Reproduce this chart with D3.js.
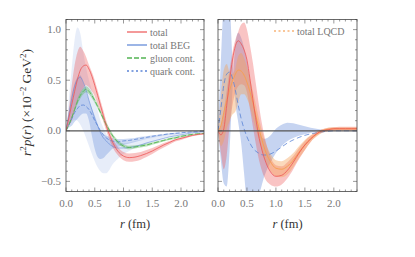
<!DOCTYPE html>
<html>
<head>
<meta charset="utf-8">
<script src="https://cdn.jsdelivr.net/npm/d3@7"></script>
<style>
  body { margin: 0; background: #fff; }
  svg text { font-family: "Liberation Serif", "DejaVu Serif", serif; }
</style>
</head>
<body>
<svg id="chart" width="415" height="257"></svg>
<script>
// ---- data ----
const rGrid = [0, 0.05, 0.1, 0.15, 0.2, 0.25, 0.3, 0.35, 0.4, 0.45, 0.5, 0.55, 0.6, 0.65, 0.7, 0.75, 0.8, 0.9, 1.0, 1.1, 1.2, 1.3, 1.4, 1.5, 1.6, 1.7, 1.8, 1.9, 2.0, 2.1, 2.2, 2.3, 2.4];

// left panel
const totalLine  = [0, 0.13, 0.26, 0.39, 0.51, 0.60, 0.64, 0.65, 0.61, 0.54, 0.45, 0.35, 0.25, 0.15, 0.05, -0.03, -0.10, -0.20, -0.25, -0.265, -0.26, -0.245, -0.225, -0.20, -0.17, -0.14, -0.115, -0.09, -0.075, -0.06, -0.045, -0.035, -0.03];
const totalHi    = [0, 0.22, 0.45, 0.65, 0.78, 0.83, 0.79, 0.73, 0.65, 0.58, 0.50, 0.40, 0.30, 0.20, 0.10, 0.02, -0.06, -0.16, -0.21, -0.225, -0.22, -0.21, -0.19, -0.17, -0.145, -0.12, -0.10, -0.08, -0.065, -0.05, -0.04, -0.03, -0.025];
const totalLo    = [0, 0.05, 0.10, 0.19, 0.29, 0.37, 0.42, 0.45, 0.43, 0.39, 0.34, 0.26, 0.18, 0.09, 0.00, -0.08, -0.15, -0.24, -0.29, -0.305, -0.30, -0.285, -0.26, -0.23, -0.195, -0.165, -0.135, -0.105, -0.09, -0.07, -0.055, -0.045, -0.035];

const begLine    = [0, 0.16, 0.32, 0.44, 0.51, 0.53, 0.48, 0.40, 0.30, 0.21, 0.12, 0.05, -0.02, -0.07, -0.10, -0.13, -0.15, -0.17, -0.17, -0.165, -0.155, -0.14, -0.12, -0.105, -0.09, -0.075, -0.06, -0.05, -0.04, -0.03, -0.02, -0.015, -0.01];
const begHi      = [0, 0.32, 0.62, 0.90, 1.02, 0.96, 0.78, 0.62, 0.50, 0.40, 0.30, 0.20, 0.10, 0.03, -0.03, -0.07, -0.10, -0.12, -0.12, -0.115, -0.10, -0.09, -0.08, -0.07, -0.06, -0.05, -0.04, -0.03, -0.025, -0.02, -0.015, -0.01, -0.01];
const begLo      = [0, 0.05, 0.09, 0.11, 0.10, 0.06, 0.00, -0.07, -0.15, -0.23, -0.30, -0.36, -0.40, -0.42, -0.42, -0.39, -0.34, -0.28, -0.23, -0.20, -0.17, -0.15, -0.13, -0.11, -0.09, -0.075, -0.06, -0.05, -0.04, -0.03, -0.02, -0.015, -0.01];

const gluonLine  = [0, 0.06, 0.13, 0.21, 0.29, 0.35, 0.39, 0.41, 0.39, 0.35, 0.30, 0.24, 0.18, 0.12, 0.06, 0.01, -0.04, -0.11, -0.15, -0.165, -0.16, -0.15, -0.14, -0.125, -0.11, -0.095, -0.08, -0.07, -0.055, -0.045, -0.035, -0.03, -0.025];
const gluonErr   = [0, 0.01, 0.015, 0.02, 0.028, 0.03, 0.03, 0.03, 0.03, 0.028, 0.025, 0.022, 0.02, 0.02, 0.02, 0.02, 0.02, 0.018, 0.018, 0.018, 0.016, 0.015, 0.015, 0.012, 0.012, 0.01, 0.01, 0.01, 0.008, 0.008, 0.006, 0.005, 0.005];

const quarkLine  = [0, 0.06, 0.12, 0.18, 0.22, 0.25, 0.255, 0.24, 0.21, 0.16, 0.10, 0.05, 0.00, -0.04, -0.07, -0.09, -0.10, -0.11, -0.10, -0.095, -0.085, -0.075, -0.065, -0.055, -0.045, -0.038, -0.03, -0.025, -0.02, -0.015, -0.01, -0.008, -0.005];
const quarkHi    = [0, 0.18, 0.35, 0.47, 0.53, 0.55, 0.47, 0.38, 0.30, 0.22, 0.15, 0.07, 0.00, -0.03, -0.05, -0.06, -0.07, -0.08, -0.08, -0.075, -0.07, -0.06, -0.055, -0.045, -0.04, -0.032, -0.025, -0.02, -0.016, -0.012, -0.008, -0.006, -0.004];
const quarkLo    = [0, 0.03, 0.05, 0.09, 0.12, 0.15, 0.17, 0.17, 0.10, -0.05, -0.18, -0.26, -0.28, -0.27, -0.24, -0.21, -0.18, -0.16, -0.14, -0.125, -0.11, -0.095, -0.08, -0.07, -0.06, -0.05, -0.04, -0.033, -0.026, -0.02, -0.015, -0.01, -0.007];

// right panel
const tot2Line   = [0, -0.04, 0.02, 0.25, 0.50, 0.70, 0.84, 0.89, 0.86, 0.80, 0.70, 0.52, 0.32, 0.13, -0.04, -0.17, -0.27, -0.40, -0.45, -0.44, -0.39, -0.31, -0.22, -0.14, -0.08, -0.03, 0.00, 0.01, 0.02, 0.02, 0.02, 0.02, 0.02];
const tot2Hi     = [0, 0.05, 0.20, 0.40, 0.60, 0.78, 0.90, 0.98, 1.05, 1.07, 1.00, 0.85, 0.68, 0.48, 0.28, 0.10, -0.05, -0.25, -0.34, -0.35, -0.31, -0.25, -0.17, -0.10, -0.05, -0.01, 0.015, 0.03, 0.035, 0.04, 0.04, 0.04, 0.04];
const tot2Lo     = [0, -0.22, -0.38, -0.25, 0.05, 0.25, 0.38, 0.44, 0.46, 0.45, 0.38, 0.22, 0.05, -0.12, -0.27, -0.38, -0.46, -0.53, -0.55, -0.53, -0.47, -0.38, -0.28, -0.19, -0.11, -0.05, -0.02, -0.005, 0.00, 0.005, 0.005, 0.005, 0.005];

const lqcdLine   = [0, 0.05, 0.18, 0.30, 0.40, 0.49, 0.56, 0.60, 0.59, 0.55, 0.48, 0.39, 0.28, 0.16, 0.04, -0.07, -0.17, -0.30, -0.37, -0.38, -0.35, -0.29, -0.21, -0.14, -0.08, -0.035, 0.00, 0.015, 0.02, 0.02, 0.02, 0.02, 0.02];
const lqcdHi     = [0, 0.35, 0.60, 0.66, 0.58, 0.56, 0.62, 0.74, 0.77, 0.72, 0.63, 0.52, 0.40, 0.27, 0.14, 0.02, -0.08, -0.22, -0.29, -0.30, -0.27, -0.22, -0.15, -0.09, -0.045, -0.01, 0.015, 0.03, 0.035, 0.035, 0.035, 0.035, 0.035];
const lqcdLo     = [0, -0.15, -0.10, 0.02, 0.10, 0.16, 0.19, 0.28, 0.36, 0.36, 0.32, 0.24, 0.13, 0.02, -0.08, -0.18, -0.27, -0.39, -0.45, -0.46, -0.43, -0.36, -0.27, -0.19, -0.11, -0.06, -0.02, 0.00, 0.005, 0.005, 0.005, 0.005, 0.005];

const begRLine   = [0, 0.22, 0.45, 0.56, 0.58, 0.52, 0.40, 0.25, 0.12, 0.02, -0.06, -0.12, -0.17, -0.20, -0.22, -0.235, -0.24, -0.23, -0.20, -0.16, -0.12, -0.09, -0.065, -0.045, -0.03, -0.02, -0.01, -0.005, 0.00, 0.00, 0.00, 0.00, 0.00];
const begRA      = [0, 0.70, 1.30, 1.50, 1.30, 0.70, 0.28, 0.08, -0.12, -0.42, -0.72, -0.85, -0.85, -0.75, -0.65, -0.55, -0.45, -0.32, -0.22, -0.15, -0.10, -0.07, -0.05, -0.035, -0.02, -0.01, -0.005, 0.00, 0.00, 0.00, 0.00, 0.00, 0.00];
const begRB      = [0, -0.30, -0.52, -0.55, -0.20, 0.40, 0.85, 0.97, 0.92, 0.82, 0.68, 0.50, 0.32, 0.15, 0.02, -0.06, -0.08, -0.05, 0.02, 0.06, 0.08, 0.075, 0.06, 0.045, 0.03, 0.02, 0.01, 0.005, 0.00, 0.00, 0.00, 0.00, 0.00];

const xTicks = [0.0, 0.5, 1.0, 1.5, 2.0];
const yTicks = [-0.5, 0.0, 0.5, 1.0];
const legendLeft = ["total", "total BEG", "gluon cont.", "quark cont."];
const legendRight = ["total LQCD"];

// ---- layout ----
const svg = d3.select('#chart');
const plotTop = 19.5, plotBottom = 191.5;
const panels = [{x0: 66, x1: 204}, {x0: 218, x1: 357}];

const y = d3.scaleLinear().domain([-0.6, 1.1]).range([plotBottom, plotTop]);

const red = '#ee5555', blue = '#5b84d6', green = '#5cb85c', orange = '#f5a055';

const defs = svg.append('defs');

function drawPanel(p, idx, layers, showYLabels) {
  const x = d3.scaleLinear().domain([0, 2.4]).range([p.x0, p.x1]);
  defs.append('clipPath').attr('id', 'clip' + idx)
    .append('rect').attr('x', p.x0).attr('y', plotTop).attr('width', p.x1 - p.x0).attr('height', plotBottom - plotTop);
  const g = svg.append('g').attr('clip-path', 'url(#clip' + idx + ')');

  const area = (lo, hi) => d3.area()
    .x((d, i) => x(rGrid[i])).y0((d, i) => y(lo[i])).y1((d, i) => y(hi[i]))
    .curve(d3.curveMonotoneX)(rGrid);
  const line = (vals) => d3.line()
    .x((d, i) => x(rGrid[i])).y((d, i) => y(vals[i]))
    .curve(d3.curveMonotoneX)(rGrid);

  layers.forEach(l => {
    if (l.type === 'band') {
      g.append('path').attr('d', area(l.lo, l.hi)).attr('fill', l.color).attr('fill-opacity', l.op);
    } else {
      g.append('path').attr('d', line(l.v)).attr('fill', 'none')
        .attr('stroke', l.color).attr('stroke-width', l.w || 0.8)
        .attr('stroke-dasharray', l.dash || null).attr('stroke-opacity', l.op || 1);
    }
  });

  // zero line
  svg.append('line').attr('x1', p.x0).attr('x2', p.x1).attr('y1', y(0)).attr('y2', y(0))
    .attr('stroke', '#555').attr('stroke-width', 1.2);

  // axes with inward ticks
  const minorX = d3.range(0, 2.41, 0.1);
  const minorY = d3.range(-0.6, 1.11, 0.1);
  const tk = svg.append('g').attr('stroke', '#555').attr('stroke-width', 0.6);
  minorX.forEach(v => {
    const major = xTicks.some(t => Math.abs(t - v) < 1e-6);
    const L = major ? 4 : 2;
    tk.append('line').attr('x1', x(v)).attr('x2', x(v)).attr('y1', plotBottom).attr('y2', plotBottom - L);
    tk.append('line').attr('x1', x(v)).attr('x2', x(v)).attr('y1', plotTop).attr('y2', plotTop + L);
  });
  minorY.forEach(v => {
    const major = yTicks.some(t => Math.abs(t - v) < 1e-6);
    const L = major ? 4 : 2;
    tk.append('line').attr('x1', p.x0).attr('x2', p.x0 + L).attr('y1', y(v)).attr('y2', y(v));
    tk.append('line').attr('x1', p.x1).attr('x2', p.x1 - L).attr('y1', y(v)).attr('y2', y(v));
  });
  svg.append('rect').attr('x', p.x0).attr('y', plotTop).attr('width', p.x1 - p.x0).attr('height', plotBottom - plotTop)
    .attr('fill', 'none').attr('stroke', '#444').attr('stroke-width', 0.8);

  svg.append('g').selectAll('text').data(xTicks).join('text')
    .attr('x', d => x(d)).attr('y', plotBottom + 15).attr('text-anchor', 'middle')
    .attr('font-size', 11).attr('fill', '#777').text(d => d.toFixed(1));
  if (showYLabels) {
    svg.append('g').selectAll('text').data(yTicks).join('text')
      .attr('x', p.x0 - 5).attr('y', d => y(d) + 3.5).attr('text-anchor', 'end')
      .attr('font-size', 11).attr('fill', '#777').text(d => (d < 0 ? '\u2212' : '') + Math.abs(d).toFixed(1));
  }
  const xl = svg.append('text').attr('x', (p.x0 + p.x1) / 2).attr('y', plotBottom + 36)
    .attr('text-anchor', 'middle').attr('font-size', 12.5).attr('fill', '#333');
  xl.append('tspan').attr('font-style', 'italic').text('r');
  xl.append('tspan').text(' (fm)');
}

drawPanel(panels[0], 0, [
  {type: 'band', lo: begLo, hi: begHi, color: blue, op: 0.15},
  {type: 'band', lo: quarkLo, hi: quarkHi, color: blue, op: 0.3},
  {type: 'band', lo: totalLo, hi: totalHi, color: red, op: 0.35},
  {type: 'band', lo: gluonLine.map((v, i) => v - gluonErr[i]), hi: gluonLine.map((v, i) => v + gluonErr[i]), color: green, op: 0.4},
  {type: 'line', v: begLine, color: blue, op: 0.7},
  {type: 'line', v: quarkLine, color: blue, dash: '4,2'},
  {type: 'line', v: gluonLine, color: green, dash: '5,2', w: 1},
  {type: 'line', v: totalLine, color: red}
], true);

drawPanel(panels[1], 1, [
  {type: 'band', lo: begRA, hi: begRB, color: blue, op: 0.35},
  {type: 'band', lo: tot2Lo, hi: tot2Hi, color: red, op: 0.35},
  {type: 'band', lo: lqcdLo, hi: lqcdHi, color: orange, op: 0.4},
  {type: 'line', v: begRLine, color: blue, dash: '5,3'},
  {type: 'line', v: lqcdLine, color: orange, w: 1},
  {type: 'line', v: tot2Line, color: red}
], false);

// legends
function legend(x0, y0, items) {
  items.forEach((it, i) => {
    const yy = y0 + i * 13;
    svg.append('line').attr('x1', x0).attr('x2', x0 + 20).attr('y1', yy).attr('y2', yy)
      .attr('stroke', it.color).attr('stroke-width', it.w).attr('stroke-opacity', it.op || 1)
      .attr('stroke-dasharray', it.dash || null);
    svg.append('text').attr('x', x0 + 23).attr('y', yy + 3.5).attr('font-size', 10)
      .attr('fill', '#777').text(it.label);
  });
}
legend(127, 32, [
  {label: legendLeft[0], color: red, w: 1.5, op: 0.8},
  {label: legendLeft[1], color: blue, w: 1.5, op: 0.8},
  {label: legendLeft[2], color: green, w: 1.8, dash: '5,2', op: 0.8},
  {label: legendLeft[3], color: blue, w: 1.3, dash: '2,2.5'}
]);
legend(274, 31, [
  {label: legendRight[0], color: orange, w: 1.5, dash: '2,2.5', op: 0.8}
]);

// y label
const yl = svg.append('text').attr('transform', 'translate(31,' + ((plotTop + plotBottom) / 2 - 3) + ') rotate(-90)')
  .attr('text-anchor', 'middle').attr('font-size', 13.5).attr('fill', '#333');
yl.append('tspan').attr('font-style', 'italic').text('r');
yl.append('tspan').attr('font-size', 9).attr('dy', -5).text('2');
yl.append('tspan').attr('font-style', 'italic').attr('dy', 5).text('p');
yl.append('tspan').text('(');
yl.append('tspan').attr('font-style', 'italic').text('r');
yl.append('tspan').text(') (\u00d710');
yl.append('tspan').attr('font-size', 9).attr('dy', -5).text('\u22122');
yl.append('tspan').attr('dy', 5).text(' GeV');
yl.append('tspan').attr('font-size', 9).attr('dy', -5).text('2');
yl.append('tspan').attr('dy', 5).text(')');
</script>
</body>
</html>
